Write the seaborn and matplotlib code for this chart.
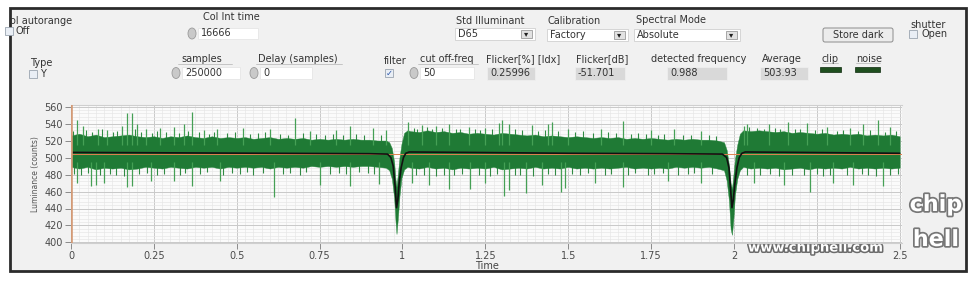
import numpy as np
import pandas as pd
import matplotlib
matplotlib.use("Agg")
import matplotlib.pyplot as plt
import seaborn as sns
from matplotlib.patches import Rectangle, FancyBboxPatch, Ellipse
from matplotlib.ticker import MultipleLocator
import matplotlib.patheffects as pe

# ---------------- data ----------------
env_t = [0.000, 0.025, 0.05, 0.075, 0.1, 0.125, 0.15, 0.175, 0.2, 0.225, 0.25, 0.275, 0.3, 0.325, 0.35,
         0.375, 0.4, 0.425, 0.45, 0.475, 0.5, 0.525, 0.55, 0.575, 0.6, 0.625, 0.65, 0.675, 0.7, 0.725,
         0.75, 0.775, 0.8, 0.825, 0.85, 0.875, 0.9, 0.925, 0.95,
         0.96, 0.968, 0.975, 0.979, 0.982, 0.986, 0.991, 0.997, 1.005, 1.015,
         1.025, 1.05, 1.075, 1.1, 1.125, 1.15, 1.175, 1.2, 1.225, 1.25, 1.275, 1.3, 1.325, 1.35, 1.375,
         1.4, 1.425, 1.45, 1.475, 1.5, 1.525, 1.55, 1.575, 1.6, 1.625, 1.65, 1.675, 1.7, 1.725, 1.75,
         1.775, 1.8, 1.825, 1.85, 1.875, 1.9, 1.925, 1.95, 1.97,
         1.978, 1.985, 1.99, 1.994, 1.998, 2.003, 2.01, 2.018, 2.028,
         2.05, 2.075, 2.1, 2.125, 2.15, 2.175, 2.2, 2.225, 2.25, 2.275, 2.3, 2.325, 2.35, 2.375, 2.4,
         2.425, 2.45, 2.475, 2.5]
env_hi = [526, 528, 525, 527, 524, 525, 526, 527, 525, 524, 525, 523, 525, 524, 526,
          524, 523, 525, 523, 524, 523, 524, 522, 523, 524, 522, 523, 522, 523, 521,
          522, 521, 522, 521, 522, 521, 521, 520, 520,
          518, 511, 494, 474, 466, 480, 500, 516, 529, 532,
          531, 530, 532, 530, 531, 529, 530, 528, 529, 528, 527, 529, 528, 527, 526,
          527, 525, 526, 525, 524, 525, 524, 523, 524, 523, 524, 522, 523, 522, 523,
          522, 521, 522, 521, 522, 521, 521, 520, 518,
          509, 491, 470, 463, 478, 498, 515, 528, 532,
          531, 532, 531, 530, 531, 529, 530, 529, 528, 529, 527, 528, 527, 528, 526,
          527, 526, 527, 525]
env_lo = [489, 487, 489, 486, 488, 487, 488, 486, 487, 489, 488, 487, 489, 488, 487,
          489, 488, 489, 487, 489, 488, 489, 488, 489, 487, 489, 488, 489, 488, 490,
          489, 490, 489, 490, 489, 490, 490, 489, 488,
          485, 475, 452, 425, 410, 428, 455, 476, 486, 489,
          488, 487, 489, 487, 488, 486, 488, 487, 488, 487, 489, 486, 487, 488, 487,
          489, 487, 488, 487, 489, 487, 488, 487, 488, 487, 488, 489, 487, 488, 487,
          488, 487, 489, 488, 489, 488, 489, 487, 485,
          473, 449, 416, 409, 426, 456, 475, 485, 489,
          487, 488, 487, 488, 486, 487, 488, 486, 488, 487, 488, 487, 489, 487, 488,
          487, 488, 487, 488]

# tall spikes
spike_up_t = [0.017, 0.035, 0.08, 0.11, 0.153, 0.168, 0.183, 0.2, 0.225, 0.27, 0.31, 0.34, 0.365,
              0.4, 0.44, 0.52, 0.6, 0.677, 0.72, 0.8, 0.843, 0.91, 0.95,
              1.018, 1.06, 1.1, 1.14, 1.2, 1.25, 1.29, 1.30, 1.32, 1.39, 1.44, 1.452, 1.5, 1.6,
              1.664, 1.75, 1.82, 1.9,
              2.03, 2.04, 2.106, 2.162, 2.22, 2.28, 2.35, 2.39, 2.434, 2.47]
spike_up_v = [544, 537, 534, 532, 537, 552, 552, 540, 533, 535, 536, 540, 553,
              532, 534, 535, 533, 546, 531, 532, 537, 535, 532,
              542, 538, 537, 539, 536, 535, 541, 544, 540, 538, 539, 542, 534, 533,
              543, 532, 533, 531,
              537, 539, 540, 542, 541, 536, 535, 540, 544, 536]
spike_dn_t = [0.017, 0.06, 0.075, 0.1, 0.168, 0.183, 0.24, 0.31, 0.365, 0.45, 0.611, 0.75, 0.843, 0.93,
              1.03, 1.08, 1.14, 1.205, 1.25, 1.306, 1.32, 1.372, 1.42, 1.477, 1.49, 1.58, 1.664,
              1.8, 1.9,
              2.06, 2.15, 2.228, 2.3, 2.36, 2.45]
spike_dn_v = [470, 466, 468, 470, 465, 466, 472, 472, 466, 472, 453, 468, 466, 469,
              470, 468, 463, 463, 470, 455, 462, 458, 468, 460, 464, 470, 465,
              472, 470,
              470, 468, 459, 470, 468, 467]

# short spikes along the ragged edges of the band
small_up_t = [0.005, 0.045, 0.062, 0.095, 0.128, 0.14, 0.192, 0.212, 0.245, 0.26, 0.288, 0.325, 0.352,
              0.385, 0.415, 0.43, 0.47, 0.495, 0.54, 0.565, 0.585, 0.63, 0.655, 0.70, 0.74, 0.765,
              0.79, 0.82, 0.86, 0.885, 0.935,
              1.035, 1.045, 1.075, 1.09, 1.12, 1.16, 1.175, 1.22, 1.235, 1.27, 1.34, 1.36, 1.41,
              1.43, 1.47, 1.52, 1.545, 1.575, 1.62, 1.645, 1.69, 1.71, 1.735, 1.77, 1.79, 1.845,
              1.87, 1.925, 1.945,
              2.045, 2.07, 2.09, 2.125, 2.14, 2.185, 2.2, 2.245, 2.265, 2.31, 2.33, 2.375, 2.41,
              2.455, 2.49]
small_up_v = [531, 532, 530, 533, 530, 531, 533, 530, 529, 531, 530, 529, 531,
              530, 528, 530, 529, 530, 528, 529, 530, 528, 527, 529, 528, 527,
              528, 527, 528, 526, 527,
              535, 534, 536, 534, 535, 533, 534, 533, 532, 534, 533, 532, 531,
              532, 531, 530, 531, 529, 530, 529, 528, 529, 528, 527, 528, 527,
              527, 526, 525,
              536, 535, 534, 535, 533, 534, 533, 532, 533, 531, 532, 531, 532,
              530, 531]
small_dn_t = [0.008, 0.03, 0.052, 0.088, 0.118, 0.135, 0.16, 0.205, 0.23, 0.258, 0.28, 0.33, 0.345,
              0.39, 0.41, 0.46, 0.485, 0.51, 0.53, 0.55, 0.58, 0.64, 0.66, 0.69, 0.71, 0.78, 0.81,
              0.83, 0.87, 0.895, 0.915,
              1.04, 1.065, 1.1, 1.125, 1.155, 1.18, 1.23, 1.265, 1.285, 1.34, 1.355, 1.395, 1.44,
              1.46, 1.51, 1.535, 1.56, 1.61, 1.63, 1.68, 1.7, 1.74, 1.76, 1.785, 1.83, 1.86, 1.88,
              1.935,
              2.04, 2.08, 2.11, 2.135, 2.175, 2.21, 2.25, 2.27, 2.29, 2.34, 2.385, 2.405, 2.43,
              2.47, 2.495]
small_dn_v = [481, 480, 482, 479, 481, 480, 478, 481, 482, 480, 481, 479, 482,
              481, 483, 480, 482, 481, 483, 480, 482, 481, 482, 480, 483, 481, 482,
              481, 483, 482, 481,
              479, 480, 478, 480, 479, 481, 480, 478, 481, 479, 480, 478, 481,
              479, 481, 480, 482, 480, 481, 479, 482, 480, 481, 482, 480, 481, 482,
              481,
              480, 479, 481, 478, 480, 479, 481, 478, 480, 479, 481, 480, 478,
              480, 481]

mean_t = [0.0, 0.3, 0.6, 0.9, 0.955, 0.965, 0.972, 0.978, 0.982, 0.986, 0.99, 0.996, 1.003, 1.01,
          1.02, 1.2, 1.5, 1.8, 1.965, 1.978, 1.985, 1.99, 1.994, 1.998, 2.003, 2.009, 2.016, 2.024,
          2.034, 2.2, 2.5]
mean_v = [506, 505.5, 505, 504.5, 504, 500, 490, 465, 441, 450, 470, 488, 500, 505,
          506.5, 506, 505, 504.5, 504, 500, 488, 462, 441, 450, 470, 488, 500, 505,
          506.5, 506, 505]

ref_level = 504
x_ticks = [0, 0.25, 0.5, 0.75, 1, 1.25, 1.5, 1.75, 2, 2.25, 2.5]
x_tick_labels = ["0", "0.25", "0.5", "0.75", "1", "1.25", "1.5", "1.75", "2", "", "2.5"]
y_ticks = [400, 420, 440, 460, 480, 500, 520, 540, 560]

# ---------------- figure ----------------
sns.set_theme(style="whitegrid")
plt.rcParams['font.family'] = ['DejaVu Sans']

W, H = 978, 284
fig = plt.figure(figsize=(W / 100, H / 100), dpi=100)
fig.patch.set_facecolor('white')

bg = fig.add_axes([0, 0, 1, 1])
bg.set_xlim(0, W)
bg.set_ylim(H, 0)
bg.axis('off')

# window frame
bg.add_patch(Rectangle((10, 8), 956, 263, facecolor='#f1f1f1', edgecolor='#2b2b2b', lw=2.0, zorder=0))

LBL = '#333333'
FS = 7.0


def T(x, y, s, size=FS, color=LBL, ha='left', **kw):
    bg.text(x, y, s, fontsize=size, color=color, ha=ha, va='center', **kw)


def numbox(x0, x1, y0, y1, s, spinner=True):
    if spinner:
        bg.add_patch(Ellipse((x0 - 6, (y0 + y1) / 2), 8, 11, facecolor='#c9c9c9', edgecolor='#9a9a9a', lw=0.6))
    bg.add_patch(Rectangle((x0, y0), x1 - x0, y1 - y0, facecolor='white', edgecolor='#e6e6e6', lw=0.6))
    T(x0 + 3, (y0 + y1) / 2, s)


def indicator(x0, x1, y0, y1, s):
    bg.add_patch(Rectangle((x0, y0), x1 - x0, y1 - y0, facecolor='#d9d9d9', edgecolor='#eeeeee', lw=0.6))
    T(x0 + 3, (y0 + y1) / 2, s)


def dropdown(x0, x1, y0, y1, s):
    bg.add_patch(Rectangle((x0, y0), x1 - x0, y1 - y0, facecolor='white', edgecolor='#d0d0d0', lw=0.6))
    bg.add_patch(Rectangle((x1 - 14, y0 + 2), 11, y1 - y0 - 4, facecolor='#e2e2e2', edgecolor='#9a9a9a', lw=0.6))
    T(x1 - 8.5, (y0 + y1) / 2, '▾', size=6, ha='center', color='#222222')
    T(x0 + 3, (y0 + y1) / 2, s)


def checkbox(x, y, checked=False):
    bg.add_patch(Rectangle((x, y - 4), 8, 8, facecolor='#e9eef5', edgecolor='#9aa4b0', lw=0.6))
    if checked:
        T(x + 4, y, '✓', size=6, ha='center', color='#2a55a8')


def underline(x0, x1, y):
    bg.plot([x0, x1], [y, y], color='#bdbdbd', lw=0.6)


# row 1
T(10, 21, 'ol autorange')
checkbox(5, 31)
T(15, 31, 'Off')
T(203, 17, 'Col Int time')
numbox(198, 258, 28, 39, '16666')
T(456, 21, 'Std Illuminant')
dropdown(455, 535, 28, 40, 'D65')
T(548, 21, 'Calibration')
dropdown(547, 628, 29, 41, 'Factory')
T(636, 20, 'Spectral Mode')
dropdown(634, 740, 29, 41, 'Absolute')
bg.add_patch(FancyBboxPatch((823, 28), 70, 14, boxstyle='round,pad=0,rounding_size=2',
                            facecolor='#ececec', edgecolor='#8c8c8c', lw=0.7))
T(858, 35, 'Store dark', ha='center')
T(910, 25, 'shutter')
checkbox(909, 34)
T(922, 34, 'Open')

# row 2
T(30, 63, 'Type')
checkbox(29, 74)
T(40, 74, 'Y')
T(181, 59, 'samples')
underline(178, 232, 64)
numbox(182, 240, 67, 79, '250000')
T(258, 59, 'Delay (samples)')
underline(256, 342, 64)
numbox(260, 312, 67, 79, '0')
T(384, 61, 'filter')
checkbox(385, 73, checked=True)
T(420, 59, 'cut off-freq')
underline(418, 478, 64)
numbox(420, 474, 67, 79, '50')
T(486, 59, 'Flicker[%] [Idx]')
indicator(487, 535, 67, 80, '0.25996')
T(576, 59, 'Flicker[dB]')
indicator(575, 625, 67, 80, '-51.701')
T(651, 59, 'detected frequency')
indicator(667, 727, 67, 80, '0.988')
T(762, 59, 'Average')
indicator(760, 808, 67, 80, '503.93')
T(822, 59, 'clip')
underline(822, 838, 63)
bg.add_patch(Rectangle((820, 67), 21, 5, facecolor='#1f4f1f', edgecolor='#0d2a0d', lw=0.5))
T(856, 59, 'noise')
underline(856, 880, 63)
bg.add_patch(Rectangle((855, 67), 25, 5, facecolor='#1f4f1f', edgecolor='#0d2a0d', lw=0.5))

# ---------------- chart ----------------
ax = fig.add_axes([71 / W, 1 - 243 / H, (902 - 71) / W, (243 - 105) / H])
ax.set_facecolor('#fbfbfb')
ax.set_xlim(0, 2.507)
ax.set_ylim(399.4, 561.8)

ax.xaxis.set_minor_locator(MultipleLocator(0.025))
ax.yaxis.set_minor_locator(MultipleLocator(4))
ax.grid(True, which='major', color='#c9c9c9', lw=0.7)
ax.grid(True, which='minor', color='#e6e6e6', lw=0.45)
ax.set_axisbelow(True)

ax.vlines(small_up_t, 515, small_up_v, color='#2f8a42', lw=0.8, zorder=2)
ax.vlines(small_dn_t, 495, small_dn_v, color='#2f8a42', lw=0.8, zorder=2)
ax.fill_between(env_t, env_lo, env_hi, color='#1f7a35', lw=0.3, edgecolor='#2a8a40', zorder=2)
ax.vlines(spike_up_t, 515, spike_up_v, color='#45a055', lw=0.9, zorder=2)
ax.vlines(spike_dn_t, 495, spike_dn_v, color='#45a055', lw=0.9, zorder=2)
ax.axhline(ref_level, color='#e0824f', lw=0.7, zorder=3)
mean_df = pd.DataFrame({'Time': mean_t, 'Luminance': mean_v})
sns.lineplot(data=mean_df, x='Time', y='Luminance', color='#111111', lw=1.2, ax=ax, zorder=4)
ax.axvline(0, color='#d39a76', lw=2.6, zorder=5)

ax.set_xticks(x_ticks, x_tick_labels)
ax.set_yticks(y_ticks, [str(v) for v in y_ticks])
ax.tick_params(axis='both', which='major', labelsize=7, labelcolor='#4a4a4a', length=4,
               width=0.7, color='#8a8a8a', direction='out', pad=2, left=True, bottom=True)
ax.tick_params(which='minor', length=0)
ax.set_xlabel('Time', fontsize=7, color='#444444', labelpad=0)
ax.set_ylabel('Luminance (counts)', fontsize=5.5, color='#555555', labelpad=3)
for name, sp in ax.spines.items():
    sp.set_visible(name in ('top', 'bottom'))
    sp.set_color('#cfcfcf')
    sp.set_linewidth(0.8)

# ---------------- watermark ----------------
stroke = [pe.withStroke(linewidth=2.2, foreground='#6b6b6b')]
bg.text(816, 248, 'www.chiphell.com', fontsize=9.5, color='white', ha='center', va='center',
        fontweight='bold', path_effects=stroke, zorder=10)
logo_fx = [pe.withStroke(linewidth=2.5, foreground='#777777')]
bg.text(936, 205, 'chip', fontsize=16, color='white', ha='center', va='center', fontweight='bold',
        path_effects=logo_fx, zorder=10)
bg.text(936, 240, 'hell', fontsize=16, color='white', ha='center', va='center', fontweight='bold',
        path_effects=logo_fx, zorder=10)

fig.savefig('out.png', dpi=100, facecolor='white')
